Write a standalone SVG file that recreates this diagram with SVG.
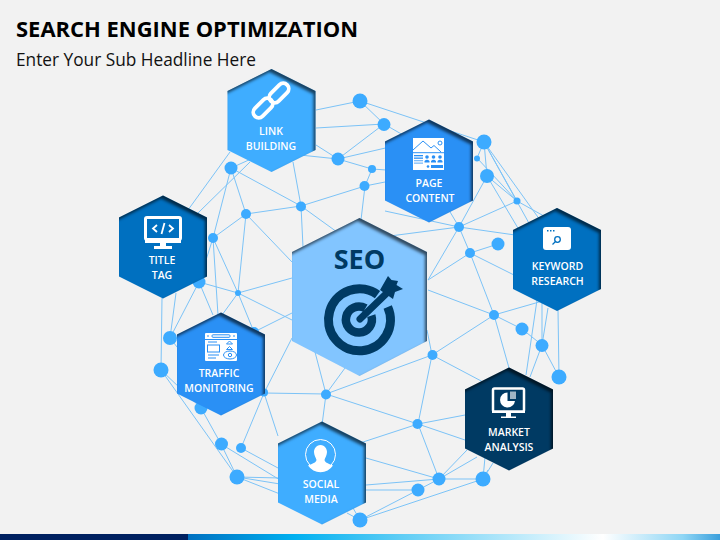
<svg xmlns="http://www.w3.org/2000/svg" width="720" height="540" viewBox="0 0 720 540">
<style>
.t{font-family:"Open Sans","Noto Sans",sans-serif}
.l{font-family:"Open Sans","Noto Sans",sans-serif;font-size:10.5px;font-weight:600;fill:#fff;text-anchor:middle}
.e{fill:none;stroke:#7cc3f7;stroke-width:1}
.d{fill:#3dabff}
.dk{fill:#003a63}
</style>
<defs>
<filter id="inset" x="-10%" y="-10%" width="120%" height="120%" color-interpolation-filters="sRGB">
<feComponentTransfer in="SourceAlpha" result="inv"><feFuncA type="table" tableValues="1 0"/></feComponentTransfer>
<feGaussianBlur in="inv" stdDeviation="1.700"/>
<feOffset dx="-2.500" dy="2.500" result="off"/>
<feFlood flood-color="#000" flood-opacity=".62"/>
<feComposite in2="off" operator="in"/>
<feComposite in2="SourceAlpha" operator="in" result="sh"/>
<feMerge><feMergeNode in="SourceGraphic"/><feMergeNode in="sh"/></feMerge>
</filter>
<path id="hex" d="M0-51.500 44-29.500V29.500L0 51.500-44 29.500V-29.500Z" filter="url(#inset)"/>
<linearGradient id="bar" x1="188" x2="720" y1="0" y2="0" gradientUnits="userSpaceOnUse">
<stop offset="0" stop-color="#0070c0"/><stop offset=".2" stop-color="#00b0f0"/><stop offset=".4" stop-color="#5fcdf5"/><stop offset=".78" stop-color="#fff"/><stop offset=".93" stop-color="#8fd6f5"/><stop offset="1" stop-color="#3b9fdc"/>
</linearGradient>
</defs>
<rect width="720" height="540" fill="#f2f2f2"/>
<rect y="534" width="188" height="6" fill="#002060"/>
<rect x="188" y="534" width="532" height="6" fill="url(#bar)"/>
<text class="t" x="16" y="37" font-size="22" font-weight="700" fill="#000" textLength="342" lengthAdjust="spacingAndGlyphs">SEARCH ENGINE OPTIMIZATION</text>
<text class="t" x="16" y="66" font-size="17.500" fill="#111" textLength="240" lengthAdjust="spacingAndGlyphs">Enter Your Sub Headline Here</text>

<g id="connectors">
<path class="e" d="M316 110 360 101M316 128 384 124M316 145 338 159M300 155 338 159M360 101 384 124M360 101 484 142M384 124 429 150M338 159 384 124M338 159 372 169M338 159 420 140M372 169 365 186M372 169 415 172M365 186 420 175M365 186 361 220M301 206 365 186M293 162 301 206M231 168 301 206M231 168 271 150M188 210 230 152M198 213 250 162M231 168 246 214M231 168 213 238M246 214 301 206M246 214 213 238M246 214 238 293M246 214 292 262M301 206 337 232M301 206 303 247M213 238 238 293M213 238 218 315M213 238 199 282M199 282 238 293M238 293 292 278M238 293 254 332M254 332 292 313M238 293 292 320M238 293 222 315M199 282 170 338M199 282 213 315M176 293 170 338M162 298 161 370M170 338 199 375M161 370 201 408M161 370 237 477M201 408 221 444M221 444 237 477M221 444 280 480M241 448 278 468M241 448 264 393M237 477 280 478M237 477 280 484M237 477 280 494M264 393 326 394M264 393 278 436M264 393 292 338M326 394 315 352M326 394 345 368M326 394 322 425M326 394 432 355M326 394 418 424M418 424 360 443M418 424 439 479M418 424 465 415M418 424 465 440M432 355 418 424M432 355 494 315M432 355 427 330M432 355 485 383M494 315 428 290M494 315 509 368M494 315 470 253M494 315 522 329M494 315 560 296M470 253 428 280M470 253 498 244M470 253 520 278M459 227 428 280M459 227 470 253M459 227 390 236M459 227 515 235M459 227 385 211M459 227 517 201M459 227 487 176M459 227 440 195M487 176 517 201M484 142 487 176M484 142 477 158M484 142 517 201M484 142 540 220M484 142 530 225M477 158 517 201M487 176 525 240M517 201 560 225M542 345 522 329M542 345 559 377M542 303 542 345M548 308 542 345M537 300 526 375M542 345 530 377M558 310 559 377M439 479 467 450M439 479 477 457M439 479 483 479M439 479 418 490M366 458 439 479M366 485 439 479M366 490 418 490M418 490 360 520M360 520 483 479M347 513 360 520M353 508 360 520M483 479 485 457M483 479 488 470M483 479 493 463M264 393 222 364"/>
</g>
<g id="dots" class="d">
<circle cx="360" cy="101" r="7.500"/><circle cx="384" cy="124.500" r="6.500"/><circle cx="338" cy="159" r="6.500"/><circle cx="231" cy="168" r="6.500"/><circle cx="301" cy="206.500" r="5"/><circle cx="246" cy="214" r="5"/><circle cx="213" cy="238" r="5"/><circle cx="199" cy="282" r="6.500"/><circle cx="238" cy="293" r="3"/><circle cx="372" cy="169" r="4"/><circle cx="364.500" cy="186" r="5"/><circle cx="484" cy="142" r="7.500"/><circle cx="477" cy="158.500" r="3"/><circle cx="487" cy="176" r="7"/><circle cx="517" cy="201" r="3.500"/><circle cx="459" cy="227" r="5"/><circle cx="498" cy="244" r="6.500"/><circle cx="470" cy="253" r="5"/><circle cx="494" cy="315" r="5"/><circle cx="522" cy="329" r="6.500"/><circle cx="542" cy="345.500" r="6.500"/><circle cx="559" cy="377" r="7.500"/><circle cx="432.500" cy="355" r="5"/><circle cx="417.500" cy="424" r="5"/><circle cx="439" cy="479" r="6.500"/><circle cx="418" cy="490" r="6.500"/><circle cx="483" cy="479" r="7.500"/><circle cx="360" cy="520" r="7.500"/><circle cx="326" cy="394.500" r="5"/><circle cx="264" cy="392.500" r="4"/><circle cx="170" cy="338" r="7"/><circle cx="161" cy="370" r="7.500"/><circle cx="201" cy="408" r="6.500"/><circle cx="221.500" cy="444" r="6.500"/><circle cx="241" cy="448" r="5"/><circle cx="237" cy="477" r="7.500"/><circle cx="254" cy="332" r="5"/>
</g>

<g id="seo">
<path d="M359.500 218 427 252V341L359.500 376 292 341V252Z" fill="#82c5ff" filter="url(#inset)"/>
<text x="359.500" y="269" text-anchor="middle" class="t" font-size="27" font-weight="700" fill="#003a63">SEO</text>
<g fill="none" stroke="#003a63">
<path d="M377.500 294.600A31 31 0 1 0 387.700 307" stroke-width="9"/>
<path d="M365.400 308.300A13 13 0 1 0 371.300 315.600" stroke-width="8.500"/>
<path d="M360 319 389 291" stroke-width="7" stroke-linecap="round"/>
</g>
<path class="dk" d="M380 290 388 276 391.500 280 398 281 396.500 285 403 289 395 292 393 299Z"/>
</g>

<g id="link-building">
<use href="#hex" x="271.500" y="120.500" fill="#3fadff"/>
<g fill="none" stroke="#fff" stroke-width="3.800">
<rect x="-11.500" y="-5.500" width="23" height="11" rx="5.500" transform="translate(263 108) rotate(-45)"/>
<rect x="-11.500" y="-5.500" width="23" height="11" rx="5.500" transform="translate(279 93) rotate(-45)"/>
</g>
<text class="l" x="271" y="135">LINK</text><text class="l" x="271" y="150">BUILDING</text>
</g>

<g id="title-tag">
<use href="#hex" x="163" y="247" fill="#0070c0"/>
<rect x="145.500" y="217.500" width="35" height="22" rx="1.500" fill="none" stroke="#fff" stroke-width="3"/>
<path d="M145 240H181V243H166V246H172V249H154V246H160V243H145Z" fill="#fff"/>
<g fill="none" stroke="#fff" stroke-width="1.800"><path d="M157 225 153 228.500 157 232M169 225 173 228.500 169 232M164.500 223 161.500 234"/></g>
<text class="l" x="162" y="264">TITLE</text><text class="l" x="162" y="279">TAG</text>
</g>

<g id="page-content">
<use href="#hex" x="429" y="171" fill="#2a90f5"/>
<rect x="413" y="138" width="31" height="32" fill="#fff"/>
<g fill="none" stroke="#2a90f5">
<path d="M413 150 423 141 431 148 434 145.500 441 152M413 152.700H444"/>
<circle cx="440" cy="143" r="2"/>
</g>
<g fill="#2a90f5"><rect x="414" y="155" width="9" height="1.300"/><rect x="414" y="157.500" width="9" height="1.300"/><rect x="414" y="160" width="9" height="1.300" opacity=".6"/><rect x="414" y="162.500" width="9" height="1.300" opacity=".6"/><circle cx="427" cy="157" r="1.800"/><circle cx="433.500" cy="157" r="1.800"/><circle cx="440" cy="157" r="1.800"/><path d="M424.500 162.500V161Q427 158.500 429.500 161V162.500ZM431 162.500V161Q433.500 158.500 436 161V162.500ZM437.500 162.500V161Q440 158.500 442.500 161V162.500Z"/><circle cx="428" cy="166.500" r="1.300"/><rect x="431" y="165" width="12" height="3"/></g>
<text class="l" x="429" y="187">PAGE</text><text class="l" x="430" y="202">CONTENT</text>
</g>

<g id="keyword-research">
<use href="#hex" x="557" y="259.500" fill="#0070c0"/>
<rect x="543" y="227" width="28" height="23" rx="3" fill="#fff"/>
<g fill="#0070c0"><rect x="547" y="230" width="1.500" height="1.500"/><rect x="550" y="230" width="1.500" height="1.500"/><rect x="553" y="230" width="1.500" height="1.500"/></g>
<g fill="none" stroke="#0070c0" stroke-width="1.300"><circle cx="557.500" cy="239.500" r="2.800"/><path d="M555.500 241.500 552.500 244.500"/></g>
<text class="l" x="557.500" y="270">KEYWORD</text><text class="l" x="557.500" y="285">RESEARCH</text>
</g>

<g id="market-analysis">
<use href="#hex" x="509" y="419" fill="#003a63"/>
<rect x="493" y="388.500" width="31" height="23" rx="1.500" fill="none" stroke="#fff" stroke-width="2.500"/>
<path d="M492 411H525V413H511V416.500H516V418H501V416.500H506V413H492Z" fill="#fff"/>
<path d="M507.500 392.500A7.500 7.500 0 1 0 515 401H507.500Z" fill="#fff"/>
<path d="M510 391.500H516V399H510Z" fill="#9fb4c4"/>
<text class="l" x="509" y="436">MARKET</text><text class="l" x="509" y="451">ANALYSIS</text>
</g>

<g id="social-media">
<use href="#hex" x="322" y="473" fill="#3fadff"/>
<circle cx="320.500" cy="454.500" r="15" fill="none" stroke="#fff" stroke-width="1"/>
<path d="M320.500 445C325 445 327 449 327 452 327 455 325 458 324.500 460 325 463 330 464 333 465.500A15 15 0 0 1 308 465.500C311 464 316 463 316.500 460 316 458 314 455 314 452 314 449 316 445 320.500 445Z" fill="#fff"/>
<text class="l" x="321" y="488">SOCIAL</text><text class="l" x="321" y="503">MEDIA</text>
</g>

<g id="traffic-monitoring">
<use href="#hex" x="221" y="364" fill="#2a90f5"/>
<rect x="205" y="333" width="32" height="28" rx="1" fill="#fff"/>
<g fill="none" stroke="#2a90f5"><path d="M205 339.500H237M207 336H209M233 336H235M208 342H217M208 355H219M208 358H216"/><rect x="212" y="334.800" width="18" height="2.500" rx="1"/><rect x="207.500" y="345" width="12" height="7"/><ellipse cx="230" cy="355" rx="6.500" ry="4"/><circle cx="230" cy="355" r="1.700"/><path d="M226.500 344 229.500 341 232.500 344ZM226.500 349.500 229.500 346.500 232.500 349.500Z"/></g>
<text class="l" x="219" y="377">TRAFFIC</text><text class="l" x="219" y="392">MONITORING</text>
</g>
</svg>
